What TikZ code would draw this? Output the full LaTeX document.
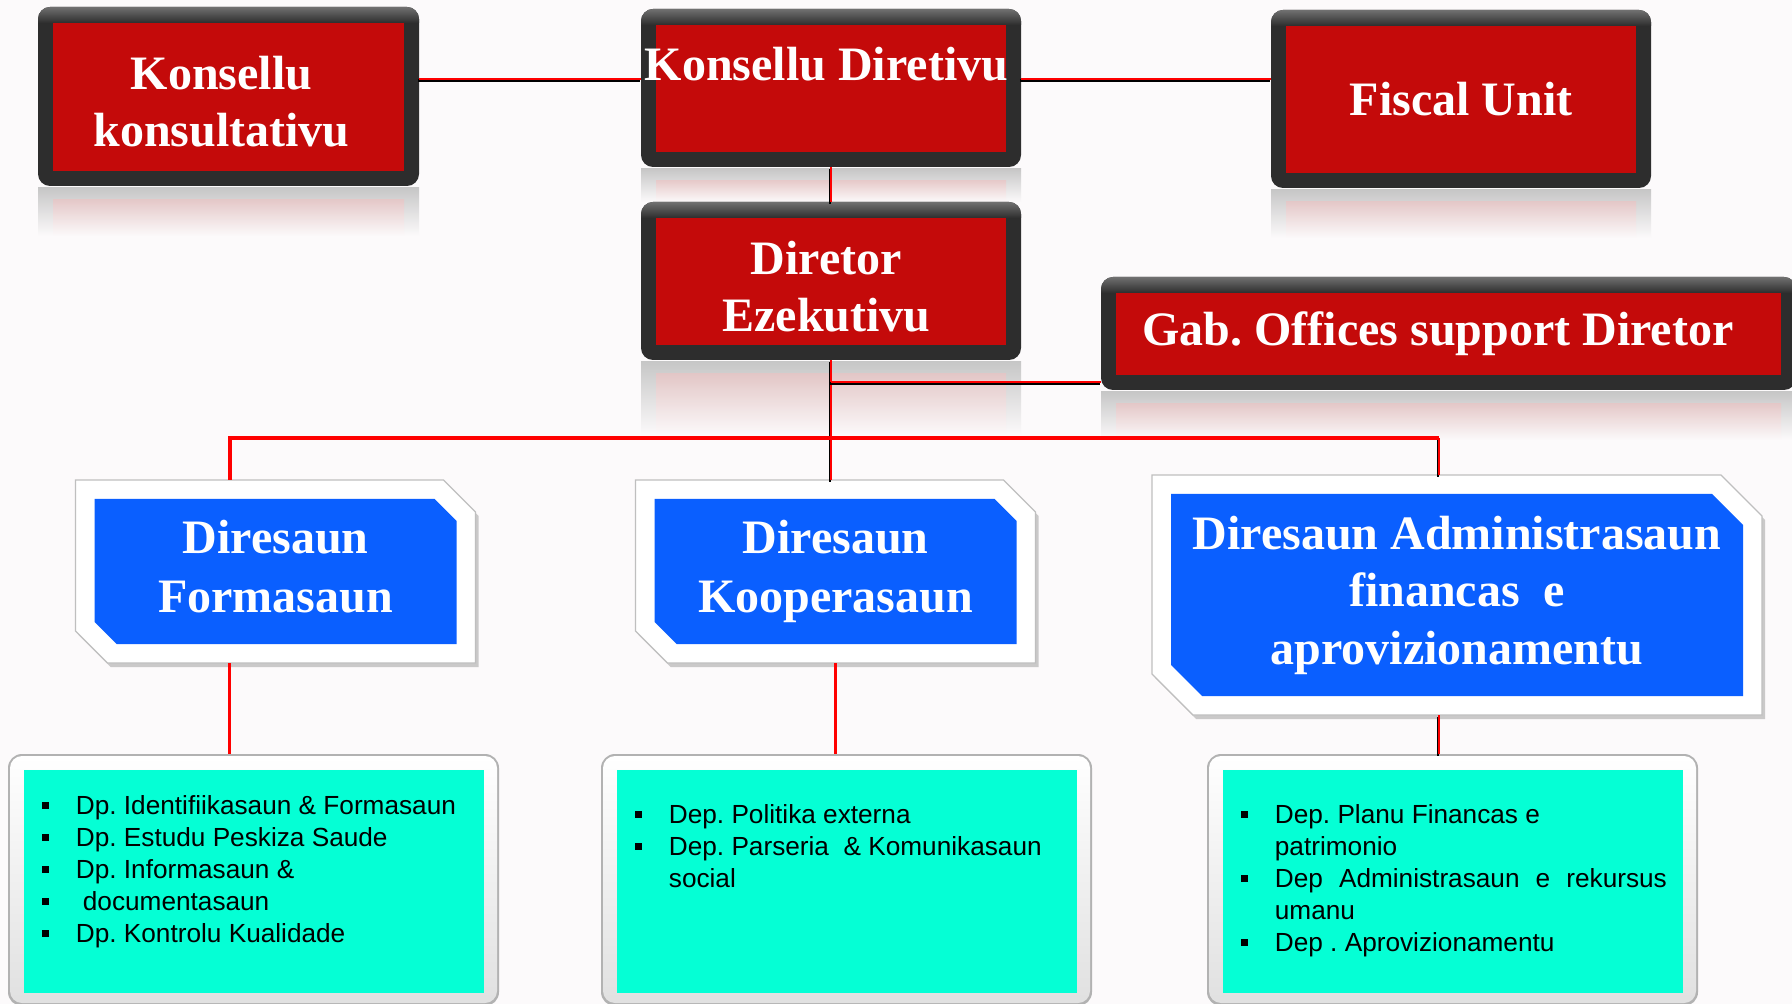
\documentclass[tikz,border=0pt]{standalone}
\usepackage{fontspec}
\setmainfont{Liberation Serif}
\setsansfont{Liberation Sans}
\usetikzlibrary{calc,backgrounds}
\frenchspacing

\definecolor{pagebg}{RGB}{252,250,251}
\definecolor{framedark}{RGB}{45,45,45}
\definecolor{frametop}{RGB}{112,112,112}
\definecolor{boxred}{RGB}{196,10,10}
\definecolor{boxblue}{RGB}{10,95,255}
\definecolor{boxcyan}{RGB}{5,255,213}
\definecolor{linered}{RGB}{255,0,0}

\tikzset{
  redbox/.style={inner sep=0pt, outer sep=0pt, text=white, align=center,
    font=\bfseries\fontsize{24}{28.5}\selectfont},
  bluebox/.style={inner sep=0pt, outer sep=0pt, text=white, align=center,
    font=\bfseries\fontsize{24}{29.5}\selectfont, minimum width=200pt, minimum height=91.5pt},
  cyanbox/.style={inner sep=0pt, outer sep=0pt, minimum width=245.5pt, minimum height=126pt},
  deplist/.style={anchor=north west, inner sep=0pt, align=left,
    font=\sffamily\fontsize{13.1}{16}\selectfont},
  link/.style={draw=linered, line width=1.3pt,
    preaction={draw=black, line width=1.3pt, transform canvas={shift={(-0.6pt,-0.9pt)}}}},
  plainlink/.style={draw=linered, line width=1.5pt},
  branch/.style={draw=linered, line width=2pt},
}

\newcommand{\sqb}{\makebox[17pt][l]{\rule[2.75pt]{3.5pt}{3.5pt}}}

\begin{document}
\begin{tikzpicture}[x=0.5pt,y=0.5pt,yscale=-1,xscale=1]
\useasboundingbox (0,0) rectangle (1792,1004);

% Text Node
\node[redbox, minimum width=190.5pt, minimum height=89.5pt] (kk) at (228.5,96.5) {\rule{0pt}{22pt}Konsellu\hspace*{7pt}\\konsultativu\hspace*{7pt}};
% Text Node
\node[redbox, minimum width=190pt, minimum height=79pt, text depth=24.5pt] (kd) at (831,88) {Konsellu Diretivu\hspace*{4.5pt}};
% Text Node
\node[redbox, minimum width=190pt, minimum height=89pt] (fu) at (1461,99) {Fiscal Unit};
% Text Node
\node[redbox, minimum width=190pt, minimum height=79pt] (de) at (831,281) {\rule{0pt}{22pt}Diretor\hspace*{4.5pt}\\Ezekutivu\hspace*{4.5pt}};
% Text Node
\node[redbox, minimum width=347.5pt, minimum height=56.5pt] (gab) at (1448.5,333.5) {Gab. Offices support Diretor\hspace*{10.5pt}};

% Text Node
\node[bluebox] (fo) at (275.5,571.5) {Diresaun\\Formasaun\vphantom{p}};
% Text Node
\node[bluebox] (ko) at (835.5,571.5) {Diresaun\\Kooperasaun};
% Text Node
\node[bluebox, minimum width=305pt, minimum height=120pt, font=\bfseries\fontsize{24}{28.75}\selectfont] (af) at (1457,595) {Diresaun Administrasaun\\financas\ \ e\\aprovizionamentu};

\node[cyanbox] (c1) at (253.5,880) {};
\node[cyanbox] (c2) at (846.5,880) {};
\node[cyanbox] (c3) at (1452.5,880) {};

% Text Node
\node[deplist] (l1) at (41.5,795) {\sqb Dp. Identifiikasaun \& Formasaun\\\sqb Dp. Estudu Peskiza Saude\\\sqb Dp. Informasaun \&\\\sqb\hspace{3.5pt}documentasaun\\\sqb Dp. Kontrolu Kualidade};
% Text Node
\node[deplist] (l2) at (634.5,804) {\sqb Dep. Politika externa\\\sqb Dep. Parseria\ \ \& Komunikasaun\\\hspace*{17pt}social};
% Text Node
\node[deplist] (l3) at (1240.5,804) {\sqb Dep. Planu Financas e\\\hspace*{17pt}patrimonio\\\sqb\makebox[196pt][s]{Dep Administrasaun e rekursus}\\\hspace*{17pt}umanu\\\sqb Dep . Aprovizionamentu};

\coordinate (kdl) at ($(kd.west)+(0,-9)$);
\coordinate (kdr) at ($(kd.east)+(0,-9)$);
\coordinate (gabin) at ($(gab.west)+(0,48.5)$);
\coordinate (br) at (831,438);
\coordinate (foj) at ($(fo.north)+(-46,0)$);
\coordinate (afj) at ($(af.north)+(-18,0)$);

%Straight Lines
\draw[link] (kdl -| kk.east) -- (kdl);
\draw[link] (kdr) -- (kdr -| fu.west);
\draw[link] (kd.south) -- (de.north);
\draw[link] (de.south) -- (de.south |- ko.north);
\draw[link] (gabin -| de.south) -- (gabin);
\draw[branch] (foj) -- (foj |- br) -- (afj |- br);
\draw[link] (afj |- br) -- (afj);
\draw[plainlink] (foj |- fo.south) -- (foj |- c1.north);
\draw[plainlink] (ko.south) -- (ko.south |- c2.north);
\draw[link] (afj |- af.south) -- (afj |- c3.north);

\begin{scope}[on background layer]
\fill[pagebg] (0,0) rectangle (1792,1004);
%Shape: red boxes with reflection
\foreach \n/\h in {kk/50,kd/35,fu/50,de/75,gab/50}{
  \shade[top color=black!22, bottom color=pagebg] ($(\n.south west)+(0,2)$) rectangle ($(\n.south east)+(0,\h)$);
  \shade[top color=boxred!25, bottom color=pagebg, opacity=0.6] ($(\n.south west)+(15,14)$) rectangle ($(\n.south east)+(-15,\h)$);
  \fill[framedark, rounded corners=6pt] (\n.south west) rectangle (\n.north east);
  \begin{scope}
    \clip[rounded corners=6pt] (\n.south west) rectangle (\n.north east);
    \shade[top color=frametop, bottom color=framedark] (\n.north west) rectangle ($(\n.north east)+(0,16)$);
  \end{scope}
  \fill[boxred] ($(\n.north west)+(15,16)$) rectangle ($(\n.south east)+(-15,-15)$);
}
%Shape: blue boxes
\foreach \n/\cut in {fo/32,ko/32,af/41}{
  \fill[black!40, opacity=0.5, transform canvas={shift={(1.5pt,-2pt)}}] (\n.north west) -- ($(\n.north east)+(-\cut,0)$) -- ($(\n.north east)+(0,\cut)$) -- (\n.south east) -- ($(\n.south west)+(\cut,0)$) -- ($(\n.south west)+(0,-\cut)$) -- cycle;
  \filldraw[fill=white, draw=black!25, line width=0.6pt] (\n.north west) -- ($(\n.north east)+(-\cut,0)$) -- ($(\n.north east)+(0,\cut)$) -- (\n.south east) -- ($(\n.south west)+(\cut,0)$) -- ($(\n.south west)+(0,-\cut)$) -- cycle;
  \fill[boxblue] ($(\n.north west)+(19,19)$) -- ($(\n.north east)+(-\cut-9,19)$) -- ($(\n.north east)+(-19,\cut+9)$) -- ($(\n.south east)+(-19,-19)$) -- ($(\n.south west)+(\cut+9,-19)$) -- ($(\n.south west)+(19,-\cut-9)$) -- cycle;
}
%Shape: cyan boxes
\foreach \n in {c1,c2,c3}{
  \fill[black!30, rounded corners=7pt] (\n.south west) rectangle (\n.north east);
  \shade[rounded corners=6pt, top color=white, bottom color=black!12] ($(\n.south west)+(2,-3)$) rectangle ($(\n.north east)+(-2,2)$);
  \fill[boxcyan] ($(\n.north west)+(16,16)$) rectangle ($(\n.south east)+(-15,-13)$);
}
\end{scope}

\end{tikzpicture}
\end{document}
